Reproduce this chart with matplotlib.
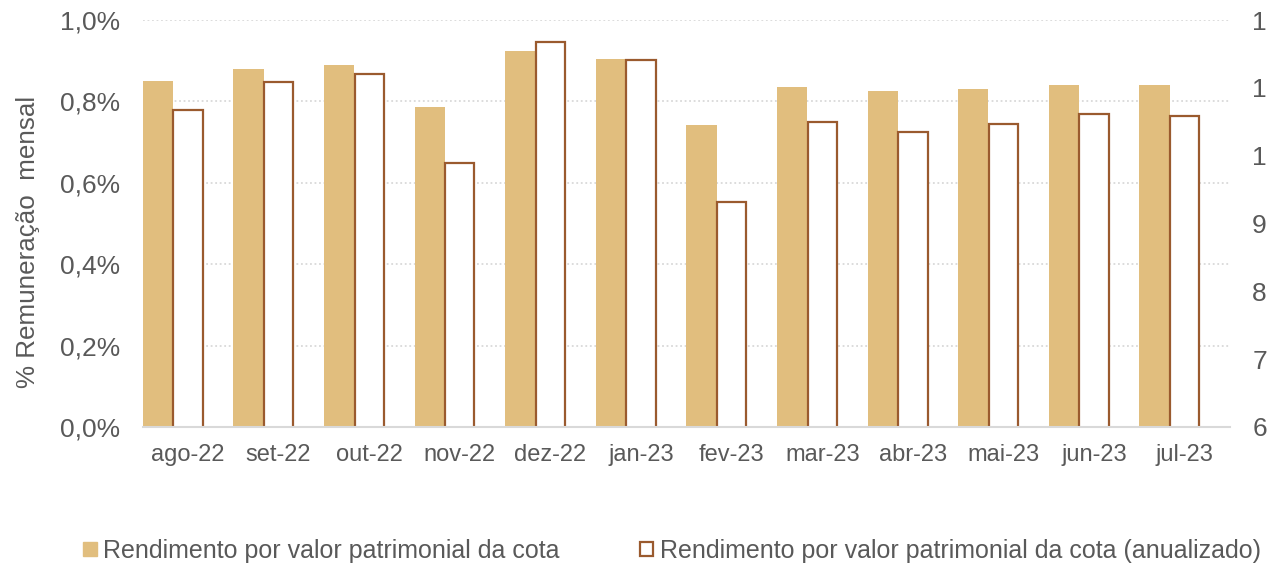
import numpy as np
import matplotlib
matplotlib.use('Agg')
import matplotlib.pyplot as plt
from matplotlib.patches import Patch

# data
meses = ['ago-22', 'set-22', 'out-22', 'nov-22', 'dez-22', 'jan-23',
         'fev-23', 'mar-23', 'abr-23', 'mai-23', 'jun-23', 'jul-23']
# % monthly (left axis)
rend_mensal = [0.850, 0.880, 0.889, 0.786, 0.924, 0.904,
               0.742, 0.835, 0.826, 0.830, 0.840, 0.840]
# % annualized (right axis)
rend_anual = [10.67, 11.09, 11.20, 9.89, 11.68, 11.41,
              9.32, 10.50, 10.35, 10.47, 10.61, 10.58]

left_ticks = [0.0, 0.2, 0.4, 0.6, 0.8, 1.0]
left_labels = ['0,0%', '0,2%', '0,4%', '0,6%', '0,8%', '1,0%']
right_ticks = [6, 7, 8, 9, 10, 11, 12]
right_labels = ['6', '7', '8', '9', '1', '1', '1']  # cut off in the original

serie1 = 'Rendimento por valor patrimonial da cota'
serie2 = 'Rendimento por valor patrimonial da cota (anualizado)'

plt.rcParams['font.family'] = ['Liberation Sans', 'DejaVu Sans']
cor_texto = '#595959'
cor_cheia = '#E1BE7E'
cor_borda = '#9A5A2E'
cor_grade = '#D9D9D9'

W, H = 1267, 565
fig = plt.figure(figsize=(W / 100, H / 100), dpi=100)
ax = fig.add_axes([142.7 / W, 1 - 427 / H, 1087.3 / W, 407 / H])
ax2 = ax.twinx()

x = np.arange(len(meses))
w = 1 / 3

ax.bar(x - w, rend_mensal, width=w, color=cor_cheia, zorder=3)
ax2.bar(x, rend_anual, width=w - 0.01, bottom=0, color='white',
        edgecolor=cor_borda, linewidth=1.6, zorder=3)

ax.set_xlim(-0.5, len(meses) - 0.5)
ax.set_ylim(0, 1.0)
ax2.set_ylim(6, 12)

ax.set_yticks(left_ticks)
ax.set_yticklabels(left_labels)
ax2.set_yticks(right_ticks)
ax2.set_yticklabels(right_labels)
ax.set_xticks(x)
ax.set_xticklabels(meses)

ax.yaxis.grid(True, linestyle=(0, (1, 1.5)), color=cor_grade, linewidth=1.3, zorder=0)
ax.set_axisbelow(True)

for a in (ax, ax2):
    for s in a.spines.values():
        s.set_visible(False)
    a.tick_params(length=0, labelsize=19, labelcolor=cor_texto)
ax.tick_params(axis='y', pad=16)
ax2.tick_params(axis='y', pad=16)
ax.tick_params(axis='x', labelsize=17, pad=12)
ax2.spines['bottom'].set_visible(True)
ax2.spines['bottom'].set_color(cor_grade)
ax2.spines['bottom'].set_linewidth(1.5)
ax2.spines['bottom'].set_zorder(5)

fig.text(28 / W, 1 - 242 / H, '% Remuneração  mensal', rotation=90,
         ha='center', va='center', fontsize=18.7, color=cor_texto)

handles = [Patch(facecolor=cor_cheia, edgecolor=cor_cheia),
           Patch(facecolor='white', edgecolor=cor_borda, linewidth=1.6)]
fig.legend(handles, [serie1, serie2], loc='center left',
           bbox_to_anchor=(83 / W, 1 - 551 / H), ncol=2, frameon=False,
           fontsize=18, labelcolor=cor_texto, handlelength=0.55,
           handleheight=0.5, handletextpad=0.25, columnspacing=3.2,
           borderaxespad=0, borderpad=0)

fig.savefig('out.png', dpi=100)
